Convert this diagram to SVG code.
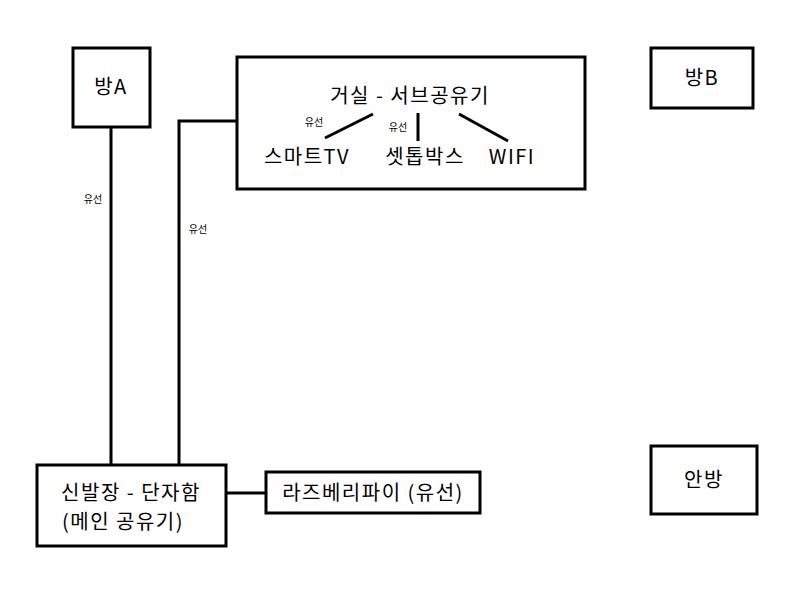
<svg xmlns="http://www.w3.org/2000/svg" width="805" height="601" viewBox="0 0 805 601">
<style>
.b{fill:#fff;stroke:#000;stroke-width:3}
.t{font-family:"Noto Sans CJK KR","Liberation Sans",sans-serif;font-size:20px;letter-spacing:1.5px;fill:#000}
.s{font-family:"Noto Sans CJK KR","Liberation Sans",sans-serif;font-size:10px;fill:#000}
.l{stroke:#000;stroke-width:3;fill:none}
</style>
<rect width="805" height="601" fill="#fff"/>
<g id="roomA"><rect class="b" x="73" y="48" width="77" height="79"/><text class="t" x="111" y="94" text-anchor="middle">방A</text></g>
<g id="living"><rect class="b" x="237" y="57" width="348" height="132"/><text class="t" x="410" y="103" text-anchor="middle">거실 - 서브공유기</text>
<text class="t" x="307" y="164" text-anchor="middle">스마트TV</text>
<text class="t" x="425" y="164" text-anchor="middle">셋톱박스</text>
<text class="t" x="512" y="164" text-anchor="middle">WIFI</text></g>
<g id="roomB"><rect class="b" x="651" y="48" width="102" height="60"/><text class="t" x="702" y="85" text-anchor="middle">방B</text></g>
<g id="main"><rect class="b" x="37" y="465" width="189" height="81"/><text class="t" x="131" y="500" text-anchor="middle">신발장 - 단자함</text><text class="t" x="123" y="529" text-anchor="middle">(메인 공유기)</text></g>
<g id="rpi"><rect class="b" x="266" y="472" width="214" height="41"/><text class="t" x="373" y="500" text-anchor="middle">라즈베리파이 (유선)</text></g>
<g id="anbang"><rect class="b" x="651" y="446" width="106" height="68"/><text class="t" x="704" y="487" text-anchor="middle">안방</text></g>
<g id="connectors">
<line class="l" x1="111" y1="127" x2="111" y2="465"/>
<polyline class="l" points="179,465 179,121 237,121"/>
<line class="l" x1="226" y1="493" x2="266" y2="493"/>
<line class="l" x1="325" y1="138" x2="373" y2="114"/>
<line class="l" x1="418" y1="113" x2="418" y2="141"/>
<line class="l" x1="459" y1="114" x2="508" y2="141"/>
<text class="s" x="93" y="203" text-anchor="middle">유선</text>
<text class="s" x="198" y="233" text-anchor="middle">유선</text>
<text class="s" x="314" y="126" text-anchor="middle">유선</text>
<text class="s" x="398" y="131" text-anchor="middle">유선</text>
</g>
</svg>
